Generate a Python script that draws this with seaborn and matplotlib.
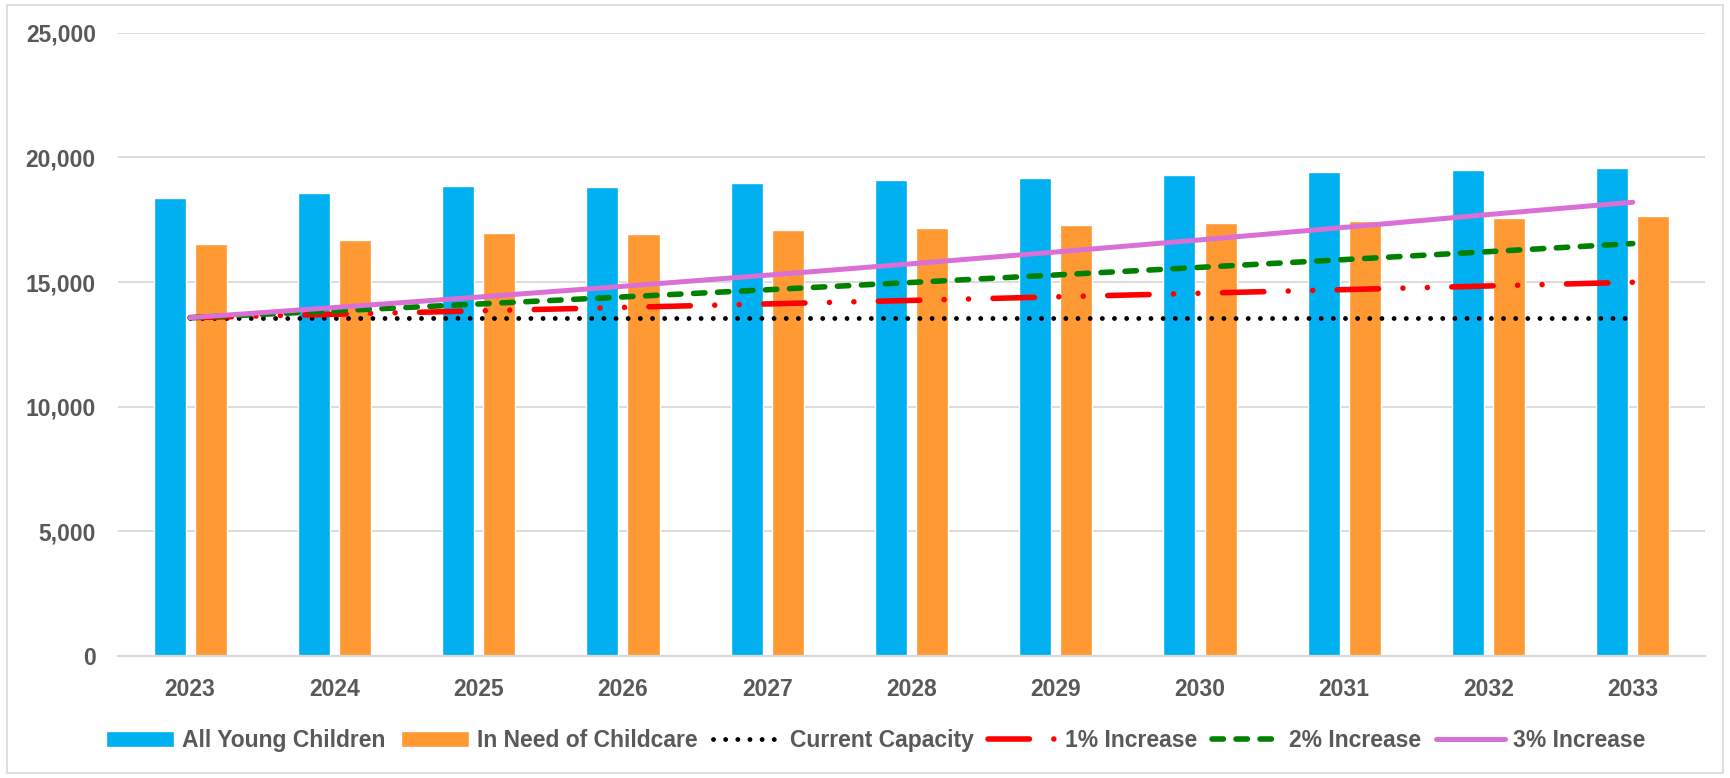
import numpy as np
import pandas as pd
import matplotlib
matplotlib.use("Agg")
import matplotlib.pyplot as plt
from matplotlib.patches import Patch, Rectangle
from matplotlib.ticker import FuncFormatter
import seaborn as sns

# ---- data -------------------------------------------------------------
years = ["2023", "2024", "2025", "2026", "2027", "2028",
         "2029", "2030", "2031", "2032", "2033"]
all_young = [18370, 18560, 18840, 18800, 18990, 19080,
             19190, 19300, 19400, 19510, 19590]
in_need = [16530, 16700, 16960, 16920, 17090, 17170,
           17270, 17370, 17460, 17560, 17630]
capacity = [13570, 13570, 13570, 13570, 13570, 13570,
            13570, 13570, 13570, 13570, 13570]
increase_1 = [13570, 13706, 13843, 13981, 14121, 14262,
              14405, 14549, 14694, 14841, 14990]
increase_2 = [13570, 13841, 14118, 14401, 14689, 14982,
              15282, 15588, 15899, 16217, 16542]
increase_3 = [13570, 13977, 14396, 14828, 15273, 15731,
              16203, 16689, 17190, 17706, 18200]

bar_labels = ["All Young Children", "In Need of Childcare"]
line_labels = ["Current Capacity", "1% Increase", "2% Increase", "3% Increase"]
y_ticks = [0, 5000, 10000, 15000, 20000, 25000]

# ---- style ------------------------------------------------------------
sns.set_style("white")
plt.rcParams["font.family"] = ["Liberation Sans", "DejaVu Sans"]
plt.rcParams["font.weight"] = "bold"
TEXT = "#595959"
GRID = "#D9D9D9"
BLUE = "#00B0F0"
ORANGE = "#FF9933"

fig = plt.figure(figsize=(17.3, 7.78), dpi=100)
ax = fig.add_axes([0.0682, 0.1568, 0.9173, 0.8012])

# chart-area border
fig.patches.append(Rectangle((0.004, 0.006), 0.992, 0.988, transform=fig.transFigure,
                             fill=False, edgecolor=GRID, lw=1.2))

# ---- bars -------------------------------------------------------------
bars = pd.DataFrame({
    "year": years * 2,
    "series": [bar_labels[0]] * len(years) + [bar_labels[1]] * len(years),
    "value": all_young + in_need,
})
sns.barplot(data=bars, x="year", y="value", hue="series",
            palette=[BLUE, ORANGE], saturation=1, width=0.57, gap=0.22,
            legend=False, ax=ax)

# ---- lines ------------------------------------------------------------
idx = np.arange(len(years))
line_handles = []

sns.lineplot(x=idx, y=capacity, color="black", lw=3.5,
             linestyle=(0, (0.001, 2.5)), dash_capstyle="round", ax=ax)
line_handles.append(ax.lines[-1])

sns.lineplot(x=idx, y=increase_1, color="#FF0000", lw=4.0,
             linestyle=(0, (7.45, 4.4, 0.001, 4.4, 0.001, 4.4)),
             dash_capstyle="round", ax=ax)
line_handles.append(ax.lines[-1])

sns.lineplot(x=idx, y=increase_2, color="#008000", lw=4.0,
             linestyle=(0, (2.05, 2.27)), dash_capstyle="round", ax=ax)
line_handles.append(ax.lines[-1])

sns.lineplot(x=idx, y=increase_3, color="#DA70D6", lw=3.6,
             solid_capstyle="round", ax=ax)
line_handles.append(ax.lines[-1])

# ---- axes -------------------------------------------------------------
ax.set_xlim(-0.5, len(years) - 0.5)
ax.set_ylim(0, 25000)
ax.set_yticks(y_ticks)
ax.yaxis.set_major_formatter(FuncFormatter(lambda v, p: f"{int(v):,}"))
ax.set_xlabel("")
ax.set_ylabel("")
ax.set_axisbelow(True)
ax.yaxis.grid(True, color=GRID, lw=1.3)
ax.xaxis.grid(False)
for side in ["top", "right", "left"]:
    ax.spines[side].set_visible(False)
ax.spines["bottom"].set_color(GRID)
ax.spines["bottom"].set_linewidth(1.6)
ax.tick_params(axis="y", length=0, pad=16, labelsize=16.5, labelcolor=TEXT)
ax.tick_params(axis="x", length=0, pad=16, labelsize=16.5, labelcolor=TEXT)
for t in ax.get_xticklabels() + ax.get_yticklabels():
    t.set_fontweight("bold")

# ---- legend -----------------------------------------------------------
handles = [Patch(facecolor=BLUE), Patch(facecolor=ORANGE)] + line_handles
labels = bar_labels + line_labels
leg = fig.legend(handles, labels, loc="center", bbox_to_anchor=(0.506, 0.048),
                 ncol=6, frameon=False, fontsize=16.5, handlelength=3.0,
                 handletextpad=0.35, columnspacing=0.65, handleheight=0.65)
for t in leg.get_texts():
    t.set_color(TEXT)
    t.set_fontweight("bold")

fig.savefig("out.png", dpi=100, facecolor="white")
